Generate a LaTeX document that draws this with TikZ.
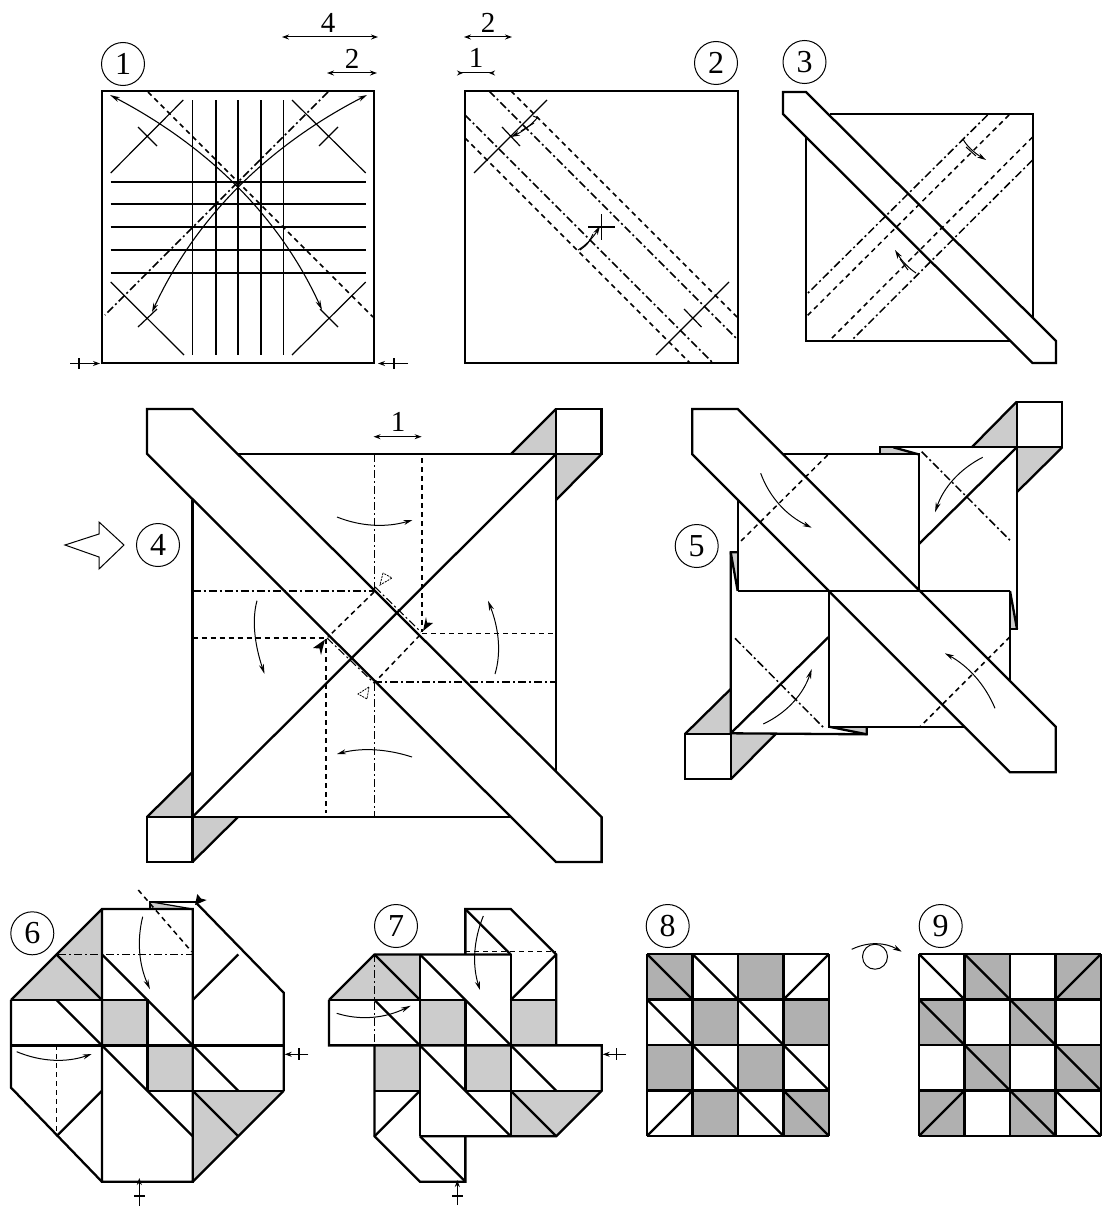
\documentclass[tikz,border=0pt]{standalone}
\usepackage{xcolor}
\usepackage{fontspec}
\setmainfont{Liberation Serif}
\usetikzlibrary{arrows.meta, calc}
\definecolor{foldgray}{RGB}{204,204,204}
\definecolor{cellgray}{RGB}{176,176,176}
\tikzset{
    edgeline/.style={line width=2.3pt},
    creaseline/.style={line width=1.2pt},
    foldvalley/.style={line width=1.5pt, dash pattern=on 5pt off 4pt},
    foldridge/.style={line width=1.5pt, dash pattern=on 8pt off 3pt on 2pt off 3pt},
    blackarrow/.style={line width=1pt, -{Stealth[length=9pt,width=5pt]}},
    hollowarrow/.style={line width=1pt, -{Stealth[open,fill=white,length=10pt,width=5pt]}},
    blackboth/.style={line width=1.1pt, {Stealth[length=9pt,width=5pt]}-{Stealth[length=9pt,width=5pt]}},
    hollowboth/.style={line width=1.1pt, {Stealth[open,fill=white,length=10pt,width=5pt]}-{Stealth[open,fill=white,length=10pt,width=5pt]}},
    dimarrow/.style={line width=1pt, {Stealth[length=7pt,width=5pt]}-{Stealth[length=7pt,width=5pt]}},
    pinarrow/.style={line width=1pt, -{Stealth[length=7pt,width=5pt]}},
    stepnum/.style={circle, draw, line width=1pt, minimum size=43pt, inner sep=0pt, font=\fontsize{32}{32}\selectfont},
    dimlabel/.style={inner sep=0pt, font=\fontsize{29}{29}\selectfont},
}
\newcommand{\bowarrow}[4]{\draw[#1] (#2) .. controls ($(#2)!0.667!(#3)$) and ($(#4)!0.667!(#3)$) .. (#4);}
\begin{document}
\begin{tikzpicture}[x=1pt,y=-1pt]
    \useasboundingbox (0,0) rectangle (1106,1207);

    % step 1
    \node[stepnum] (stepa) at (123,64) {1};
    \foreach \x in {192.7,216,238,261,283.7} \draw[creaseline] (\x,100) -- (\x,355);
    \foreach \y in {182,204,227,250,273} \draw[creaseline] (110.7,\y) -- (365.7,\y);
    \draw[creaseline] (183.3,100) -- (110.7,173) (138,127) -- (157,146);
    \draw[creaseline] (292,100) -- (365.7,173) (319,146) -- (338,127);
    \draw[creaseline] (110.7,282) -- (184,355) (138,327) -- (157,309);
    \draw[creaseline] (292,355) -- (365.7,282) (320,309) -- (338,327);
    \draw[foldvalley] (148,92) -- (373,317);
    \draw[foldridge] (328,92) -- (105,315);
    \draw[edgeline] (102,91) rectangle (374,363);
    \bowarrow{hollowboth}{110,95}{260,173.5}{322,310}
    \bowarrow{blackboth}{367,95}{216.5,172.5}{152,312}
    \draw[dimarrow] (282,37) -- (378,37);
    \node[dimlabel] (lenfour) at (328,23) {4};
    \draw[dimarrow] (327,73) -- (377,73);
    \node[dimlabel] (lentwo) at (352,59) {2};
    \draw[pinarrow] (70,363.5) -- (100,363.5);
    \draw[creaseline] (79,358) -- (79,369);
    \draw[pinarrow] (408,363.5) -- (378,363.5);
    \draw[creaseline] (394,358) -- (394,369);

    % step 2
    \node[stepnum] (stepb) at (716,63) {2};
    \draw[edgeline] (465,91) rectangle (738,363);
    \draw[foldvalley] (511,91) -- (737,317);
    \draw[foldridge] (489,91) -- (737,339);
    \draw[foldridge] (465,115) -- (712,362);
    \draw[foldvalley] (465,138) -- (690,363);
    \draw[creaseline] (547,100) -- (474,173) (502,127) -- (520,146);
    \draw[creaseline] (729,282) -- (656,355) (684,309) -- (701.5,327);
    \draw[creaseline] (601.4,214) -- (601.4,240) (588,227) -- (615,227);
    \bowarrow{blackarrow}{538,117}{528,129}{511,137}
    \draw[line width=1pt] (534,123) -- (521,131) (533,116) -- (538,118);
    \bowarrow{blackarrow}{578,250}{590,243}{600,226}
    \draw[line width=1pt] (580,250) .. controls (588,244) .. (593,234);
    \draw[dimarrow] (464,37) -- (512,37);
    \node[dimlabel] (lentwob) at (488,23) {2};
    \draw[line width=1pt, {Stealth[reversed,length=6pt,width=5pt]}-{Stealth[reversed,length=6pt,width=5pt]}] (457,73) -- (495,73);
    \node[dimlabel] (lenone) at (476,58) {1};

    % step 3
    \node[stepnum] (stepc) at (804.5,62) {3};
    \draw[edgeline] (830,114) -- (1033,114) -- (1033,320);
    \draw[edgeline] (806,134) -- (806,341) -- (1012,341);
    \draw[edgeline, fill=white] (783,92) -- (806,92) -- (1056,341) -- (1056,363) -- (1032.6,363) -- (783,114) -- cycle;
    \draw[foldridge] (987.6,115) -- (806,295);
    \draw[foldvalley] (1009,115) -- (806,317);
    \draw[foldvalley] (1032.6,137) -- (830,340);
    \draw[foldridge] (1032.6,160) -- (852,340);
    \bowarrow{blackarrow}{963,139}{968,149}{986,160}
    \draw[line width=1pt] (966,147) -- (976,156) (961,141) -- (965,137);
    \bowarrow{blackarrow}{916,273}{905,266}{895,250}
    \draw[line width=1pt] (908,270) -- (900,259);

    % step 4
    \draw[fill=foldgray, draw=none] (511,454) -- (556,409) -- (556,454) -- cycle;
    \draw[fill=foldgray, draw=none] (556,454) -- (601.6,454) -- (556,500) -- cycle;
    \draw[fill=foldgray, draw=none] (147,817) -- (192.5,772) -- (192.5,817) -- cycle;
    \draw[fill=foldgray, draw=none] (192.5,817) -- (238,817) -- (192.5,862) -- cycle;
    \draw[edgeline] (511,454) -- (556,409) (556,500) -- (601.6,454);
    \draw[edgeline] (147,817) -- (192.5,772) (192.5,862) -- (238,817);
    \draw[edgeline] (238,454) -- (556,454) -- (556,772);
    \draw[edgeline] (192.5,500) -- (192.5,817) -- (511,817);
    \draw[edgeline, fill=white] (147,409) -- (192.5,409) -- (601.6,817) -- (601.6,862) -- (556,862) -- (147,453.7) -- cycle;
    \draw[edgeline, fill=white] (556,409) rectangle (601.6,454);
    \draw[edgeline, fill=white] (147,817) rectangle (192.5,862);
    \draw[edgeline] (192.5,817) -- (556,454);
    \draw[foldridge] (374.4,454) -- (374.4,590) (374.4,683) -- (374.4,817);
    \draw[foldvalley] (422,458) -- (422,632);
    \draw[foldvalley] (326,639) -- (326,813);
    \draw[foldridge] (192.5,591) -- (374,591);
    \draw[foldvalley] (192.5,638) -- (326,638);
    \draw[foldvalley] (422,633.7) -- (556,633.7);
    \draw[foldridge] (374,682) -- (556,682);
    \draw[foldvalley] (374,592) -- (328,637);
    \draw[foldvalley] (420,635) -- (375,682);
    \draw[foldridge, line width=1.1pt] (375,587) -- (421,632);
    \draw[foldridge, line width=1.1pt] (327,638) -- (374,683);
    \draw[fill=black, draw=none] (423,631) -- (433,623) -- (427,622.5) -- (426,617) -- cycle;
    \draw[fill=black, draw=none] (325,639.5) -- (313,648) -- (319.5,648.5) -- (321,655) -- cycle;
    \draw[line width=0.8pt, dash pattern=on 2pt off 1pt] (383,573) -- (380,585) -- (392,578) -- cycle;
    \draw[line width=0.8pt, dash pattern=on 2pt off 1pt] (369,687) -- (358,694) -- (367,699) -- cycle;
    \bowarrow{blackarrow}{337,517}{373.25,531.5}{412.5,520}
    \bowarrow{blackarrow}{412,757}{373.5,744.5}{337,754}
    \bowarrow{hollowarrow}{257,600.7}{249.25,628.65}{264.5,674}
    \bowarrow{hollowarrow}{495,674}{504.5,642.65}{488,600.7}
    \draw[dimarrow] (373.6,436.7) -- (421.6,436.7);
    \node[dimlabel] (lenoneb) at (398,422) {1};
    \node[stepnum] (stepd) at (158,545) {4};
    \draw[line width=1pt] (65,545) -- (99,534) -- (99,522) -- (124,545) -- (99,569) -- (99,557) -- cycle;

    % step 5
    \node[stepnum] (stepe) at (696.7,546) {5};
    \draw[fill=foldgray, draw=none] (971.7,447.3) -- (1016.7,401.7) -- (1016.7,447.3) -- cycle;
    \draw[fill=foldgray, draw=none] (1016.7,447.3) -- (1062.3,447.3) -- (1017,492) -- cycle;
    \draw[fill=foldgray, draw=none] (685,734) -- (730.7,689) -- (730.7,734) -- cycle;
    \draw[fill=foldgray, draw=none] (730.7,734) -- (775.7,734) -- (730.7,779.3) -- cycle;
    \draw[fill=foldgray, draw=none] (880,447.3) -- (893.3,447.3) -- (918.3,454.3) -- (880,454.3) -- cycle;
    \draw[fill=foldgray, draw=none] (1010,591) -- (1017,629) -- (1010,629) -- cycle;
    \draw[fill=foldgray, draw=none] (730.7,552.3) -- (737.7,552.3) -- (737.7,591) -- cycle;
    \draw[fill=foldgray, draw=none] (829,726.7) -- (866.7,726.7) -- (866.7,734.3) -- cycle;
    \draw[edgeline] (971.7,447.3) -- (1016.7,401.7) (1017,492) -- (1062.3,447.3);
    \draw[edgeline] (685,734) -- (730.7,689) (730.7,779.3) -- (775.7,734);
    \draw[edgeline] (880,454.3) -- (880,447.3) -- (1016.7,447.3) -- (1016.7,629) -- (1010,629);
    \draw[edgeline] (893.3,447.3) -- (918.3,454.3);
    \draw[edgeline] (919,544) -- (1016.7,447.3);
    \draw[edgeline] (1010,591) -- (1017,629);
    \draw[edgeline] (737.7,552.3) -- (730.7,552.3) -- (730.7,733.3) -- (866.7,734.3) -- (866.7,726.7);
    \draw[edgeline] (730.7,552.3) -- (737.7,591);
    \draw[edgeline] (829,726.7) -- (866.7,734.3);
    \draw[edgeline] (730.7,733.3) -- (828.3,637.3);
    \draw[edgeline] (783,454.3) -- (919,454.3) -- (919,591);
    \draw[edgeline] (737.7,500) -- (737.7,591);
    \draw[edgeline] (829,591) -- (829,726.7) -- (965,726.7);
    \draw[edgeline] (1010,591) -- (1010,680);
    \draw[edgeline, fill=white] (692.3,409) -- (737.7,409) -- (1055.7,726.7) -- (1055.7,772.3) -- (1010,772.3) -- (692.3,454.3) -- cycle;
    \draw[edgeline] (737.7,591) -- (1010,591);
    \draw[edgeline, fill=white] (1016.7,401.7) rectangle (1062.3,447.3);
    \draw[edgeline, fill=white] (685,734) rectangle (730.7,779.3);
    \draw[foldvalley] (827.7,455) -- (737.7,544.3);
    \draw[foldridge] (921.7,451.7) -- (1010.7,541);
    \draw[foldridge] (735,638.3) -- (823.3,727.3);
    \draw[foldvalley] (1010,636.7) -- (920,726.7);
    \bowarrow{blackarrow}{760.7,473.3}{774,509.5}{811.7,527.7}
    \bowarrow{blackarrow}{995,708.3}{980,672.6}{945,653.3}
    \bowarrow{hollowarrow}{982.7,457.3}{947.8,475.2}{935,512.3}
    \bowarrow{hollowarrow}{763.3,724}{799.1,706.9}{811.7,669}

    % step 6
    \node[stepnum] (stepf) at (32.3,933.3) {6};
    \draw[fill=foldgray, draw=none] (150,901.7) -- (150,909) -- (192.7,909) -- cycle;
    \draw[edgeline] (150,909) -- (150,901.7) -- (196.7,901.7);
    \draw[line width=1.2pt] (150,901.7) -- (192.7,909);
    \draw[edgeline] (196.7,903.3) -- (283.7,992.7) -- (283.7,1090.8);
    \begin{scope}[shift={(11,909)},x=45.45pt,y=-45.45pt]
        \fill[foldgray] (0,2) -- (2,0) -- (2,2) -- cycle;
        \fill[foldgray] (2,2) rectangle (3,3);
        \fill[foldgray] (3,3) rectangle (4,4);
        \fill[foldgray] (4,4) -- (6,4) -- (4,6) -- cycle;
        \draw[edgeline] (0,2) -- (2,0) -- (4,0) -- (4,6) -- (2,6) -- (2,0);
        \draw[edgeline] (0,2) -- (0,3.93) -- (2,6);
        \draw[edgeline] (6,4) -- (4,6);
        \draw[edgeline] (0,2) -- (3,2) -- (3,4);
        \draw[edgeline] (0,3) -- (6,3);
        \draw[edgeline] (3,4) -- (6,4);
        \draw[edgeline] (1,1) -- (2,2);
        \draw[edgeline] (2,1) -- (4,3) -- (5,4);
        \draw[edgeline] (1,2) -- (2,3) -- (4,5);
        \draw[edgeline] (4,4) -- (5,5);
        \draw[edgeline] (4,2) -- (5,1);
        \draw[edgeline] (1,5) -- (2,4);
        \draw[foldvalley] (1,3) -- (1,5);
    \end{scope}
    \draw[foldridge] (58,954.3) -- (191.7,954.3);
    \draw[foldvalley] (138.3,890) -- (191.7,951.7);
    \draw[fill=black, draw=none] (195,905) -- (206.7,900) -- (201,898.5) -- (197.3,894) -- cycle;
    \bowarrow{hollowarrow}{142.7,916.7}{133.65,953}{150,989.3}
    \bowarrow{blackarrow}{16.7,1051.7}{53.8,1067.15}{91.7,1054}
    \draw[pinarrow] (308.3,1054.3) -- (284.7,1054.3);
    \draw[creaseline] (299,1048) -- (299,1060);
    \draw[pinarrow] (139.3,1206) -- (139.3,1178);
    \draw[creaseline] (134,1196) -- (145,1196);

    % step 7
    \node[stepnum] (stepg) at (396,926) {7};
    \begin{scope}[shift={(329,909)},x=45.45pt,y=-45.45pt]
        \fill[foldgray] (0,2) -- (1,1) -- (2,1) -- (2,2) -- cycle;
        \fill[foldgray] (4,2) rectangle (5,3);
        \fill[foldgray] (2,2) rectangle (3,3);
        \fill[foldgray] (3,3) rectangle (4,4);
        \fill[foldgray] (1,3) rectangle (2,4);
        \fill[foldgray] (4,4) -- (6,4) -- (5,5) -- (4,5) -- cycle;
        \draw[edgeline] (3,1) -- (3,0) -- (4,0) -- (5,1) -- (5,3);
        \draw[edgeline] (3,0) -- (4,1);
        \draw[edgeline] (0,2) -- (1,1) -- (4,1);
        \draw[edgeline] (0,2) -- (0,3) -- (6,3) -- (6,4) -- (5,5) -- (2,5);
        \draw[edgeline] (0,2) -- (3,2) (4,2) -- (5,2);
        \draw[edgeline] (2,1) -- (2,5) (4,1) -- (4,5);
        \draw[edgeline] (3,2) -- (3,4);
        \draw[edgeline] (1,4) -- (2,4) (3,4) -- (6,4);
        \draw[edgeline] (1,3) -- (1,5) -- (2,6) -- (3,6) -- (3,5);
        \draw[edgeline] (2,5) -- (3,6);
        \draw[edgeline] (1,1) -- (2,2);
        \draw[edgeline] (2,1) -- (4,3) -- (5,4);
        \draw[edgeline] (1,2) -- (2,3) -- (4,5);
        \draw[edgeline] (4,4) -- (5,5);
        \draw[edgeline] (4,2) -- (5,1);
        \draw[edgeline] (1,5) -- (2,4);
        \draw[foldridge] (1,1) -- (1,3);
    \end{scope}
    \draw[foldvalley] (465,951.7) -- (556,951.7);
    \bowarrow{blackarrow}{483.3,916}{468.35,953}{480,990}
    \bowarrow{hollowarrow}{336.7,1013.3}{372.3,1024.5}{410.7,1005.7}
    \draw[pinarrow] (626,1054.3) -- (602.7,1054.3);
    \draw[creaseline] (616.7,1048) -- (616.7,1060);
    \draw[pinarrow] (457.3,1205) -- (457.3,1180);
    \draw[creaseline] (452,1196) -- (463,1196);

    % steps 8 and 9
    \node[stepnum] (steph) at (667.7,926) {8};
    \node[stepnum] (stepi) at (940.7,926) {9};
    \begin{scope}[shift={(647,954)},x=45.5pt,y=-45.5pt]
        \foreach \c/\r in {0/0,2/0,1/1,3/1,0/2,2/2,1/3,3/3} \fill[cellgray] (\c,\r) rectangle ++(1,1);
        \foreach \k in {0,...,4} \draw[edgeline] (\k,0) -- (\k,4) (0,\k) -- (4,\k);
        \foreach \c/\r in {0/0,1/0,0/1,2/1,1/2,3/2,2/3,3/3} \draw[edgeline] (\c,\r) -- ++(1,1);
        \foreach \c/\r in {3/1,0/4} \draw[edgeline] (\c,\r) -- ++(1,-1);
    \end{scope}
    \begin{scope}[shift={(919,954)},x=45.5pt,y=-45.5pt]
        \foreach \c/\r in {1/0,3/0,0/1,2/1,1/2,3/2,0/3,2/3} \fill[cellgray] (\c,\r) rectangle ++(1,1);
        \foreach \k in {0,...,4} \draw[edgeline] (\k,0) -- (\k,4) (0,\k) -- (4,\k);
        \foreach \c/\r in {0/0,1/0,0/1,2/1,1/2,3/2,2/3,3/3} \draw[edgeline] (\c,\r) -- ++(1,1);
        \foreach \c/\r in {3/1,0/4} \draw[edgeline] (\c,\r) -- ++(1,-1);
    \end{scope}
    \draw[line width=1pt] (875,956.7) circle[radius=12.5pt];
    \bowarrow{blackarrow}{851.7,949.3}{876.7,937.5}{901.7,951.7}
\end{tikzpicture}
\end{document}
